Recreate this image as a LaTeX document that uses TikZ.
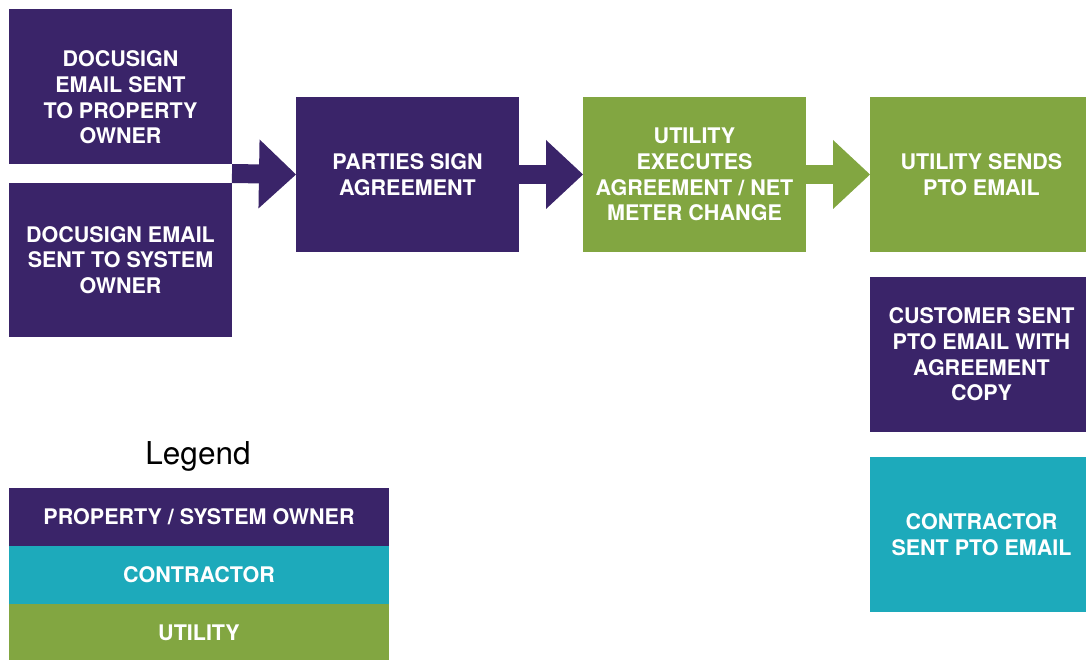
\documentclass[tikz,border=0pt]{standalone}
\usepackage{fontspec}
\setmainfont{TeX Gyre Heros}
\usetikzlibrary{positioning,arrows.meta,calc}
\definecolor{ownerpurple}{HTML}{3A2469}
\definecolor{contractorteal}{HTML}{1DAABB}
\definecolor{utilitygreen}{HTML}{82A641}

\begin{document}
\begin{tikzpicture}[x=1pt,y=1pt,yscale=-1,
  stepbox/.style={anchor=north west,minimum width=223pt,minimum height=155pt,inner sep=0pt,outer sep=0pt,text=white,align=center,font=\fontsize{21.5}{25.7}\selectfont\bfseries},
  steptext/.style={inner sep=0pt,text=white,align=center,font=\fontsize{21.5}{25.7}\selectfont\bfseries},
  legendrow/.style={anchor=north west,minimum width=380pt,minimum height=58pt,inner sep=0pt,outer sep=0pt,text=white,font=\fontsize{21.5}{25.7}\selectfont\bfseries},
  flowarrow/.style={line width=19pt,-{Triangle[length=37pt,width=69pt,line width=0pt]}}]

\useasboundingbox (0,0) rectangle (1086,660);
\clip (0,0) rectangle (1086,660);

% Step boxes
\node [stepbox,fill=ownerpurple] (propmail) at (9,9) {};
\node [steptext] (propmailtext) at ($(propmail.center)+(0,11)$) {DOCUSIGN\\EMAIL SENT\\TO PROPERTY\\OWNER};
\node [stepbox,fill=ownerpurple,minimum height=154pt] (sysmail) at (9,183) {DOCUSIGN EMAIL\\SENT TO SYSTEM\\OWNER};

\node [stepbox,fill=ownerpurple] (parties) at (296,97) {PARTIES SIGN\\AGREEMENT};
\node [stepbox,fill=utilitygreen] (utilexec) at (583,97) {UTILITY\\EXECUTES\\AGREEMENT / NET\\METER CHANGE};
\node [stepbox,fill=utilitygreen] (utilpto) at (870,97) {UTILITY SENDS\\PTO EMAIL};

\node [stepbox,fill=ownerpurple] (custpto) at (870,277) {CUSTOMER SENT\\PTO EMAIL WITH\\AGREEMENT\\COPY};
\node [stepbox,fill=contractorteal] (contrpto) at (870,457) {CONTRACTOR\\SENT PTO EMAIL};

% Arrows
\coordinate (mailjoin) at ($(propmail.south east)!0.5!(sysmail.north east)$);
\draw [flowarrow,ownerpurple] (mailjoin) -- (parties.west);
\draw [flowarrow,ownerpurple] (parties.east) -- (utilexec.west);
\draw [flowarrow,utilitygreen] (utilexec.east) -- (utilpto.west);

% Legend
\node [anchor=base,inner sep=0pt,font=\fontsize{31.5}{36}\selectfont] (legendtitle) at (198,464) {Legend};
\node [legendrow,fill=ownerpurple] (legowner) at (9,488) {PROPERTY / SYSTEM OWNER};
\node [legendrow,fill=contractorteal] (legcontr) at (9,546) {CONTRACTOR};
\node [legendrow,fill=utilitygreen] (legutil) at (9,604) {UTILITY};

\end{tikzpicture}
\end{document}
